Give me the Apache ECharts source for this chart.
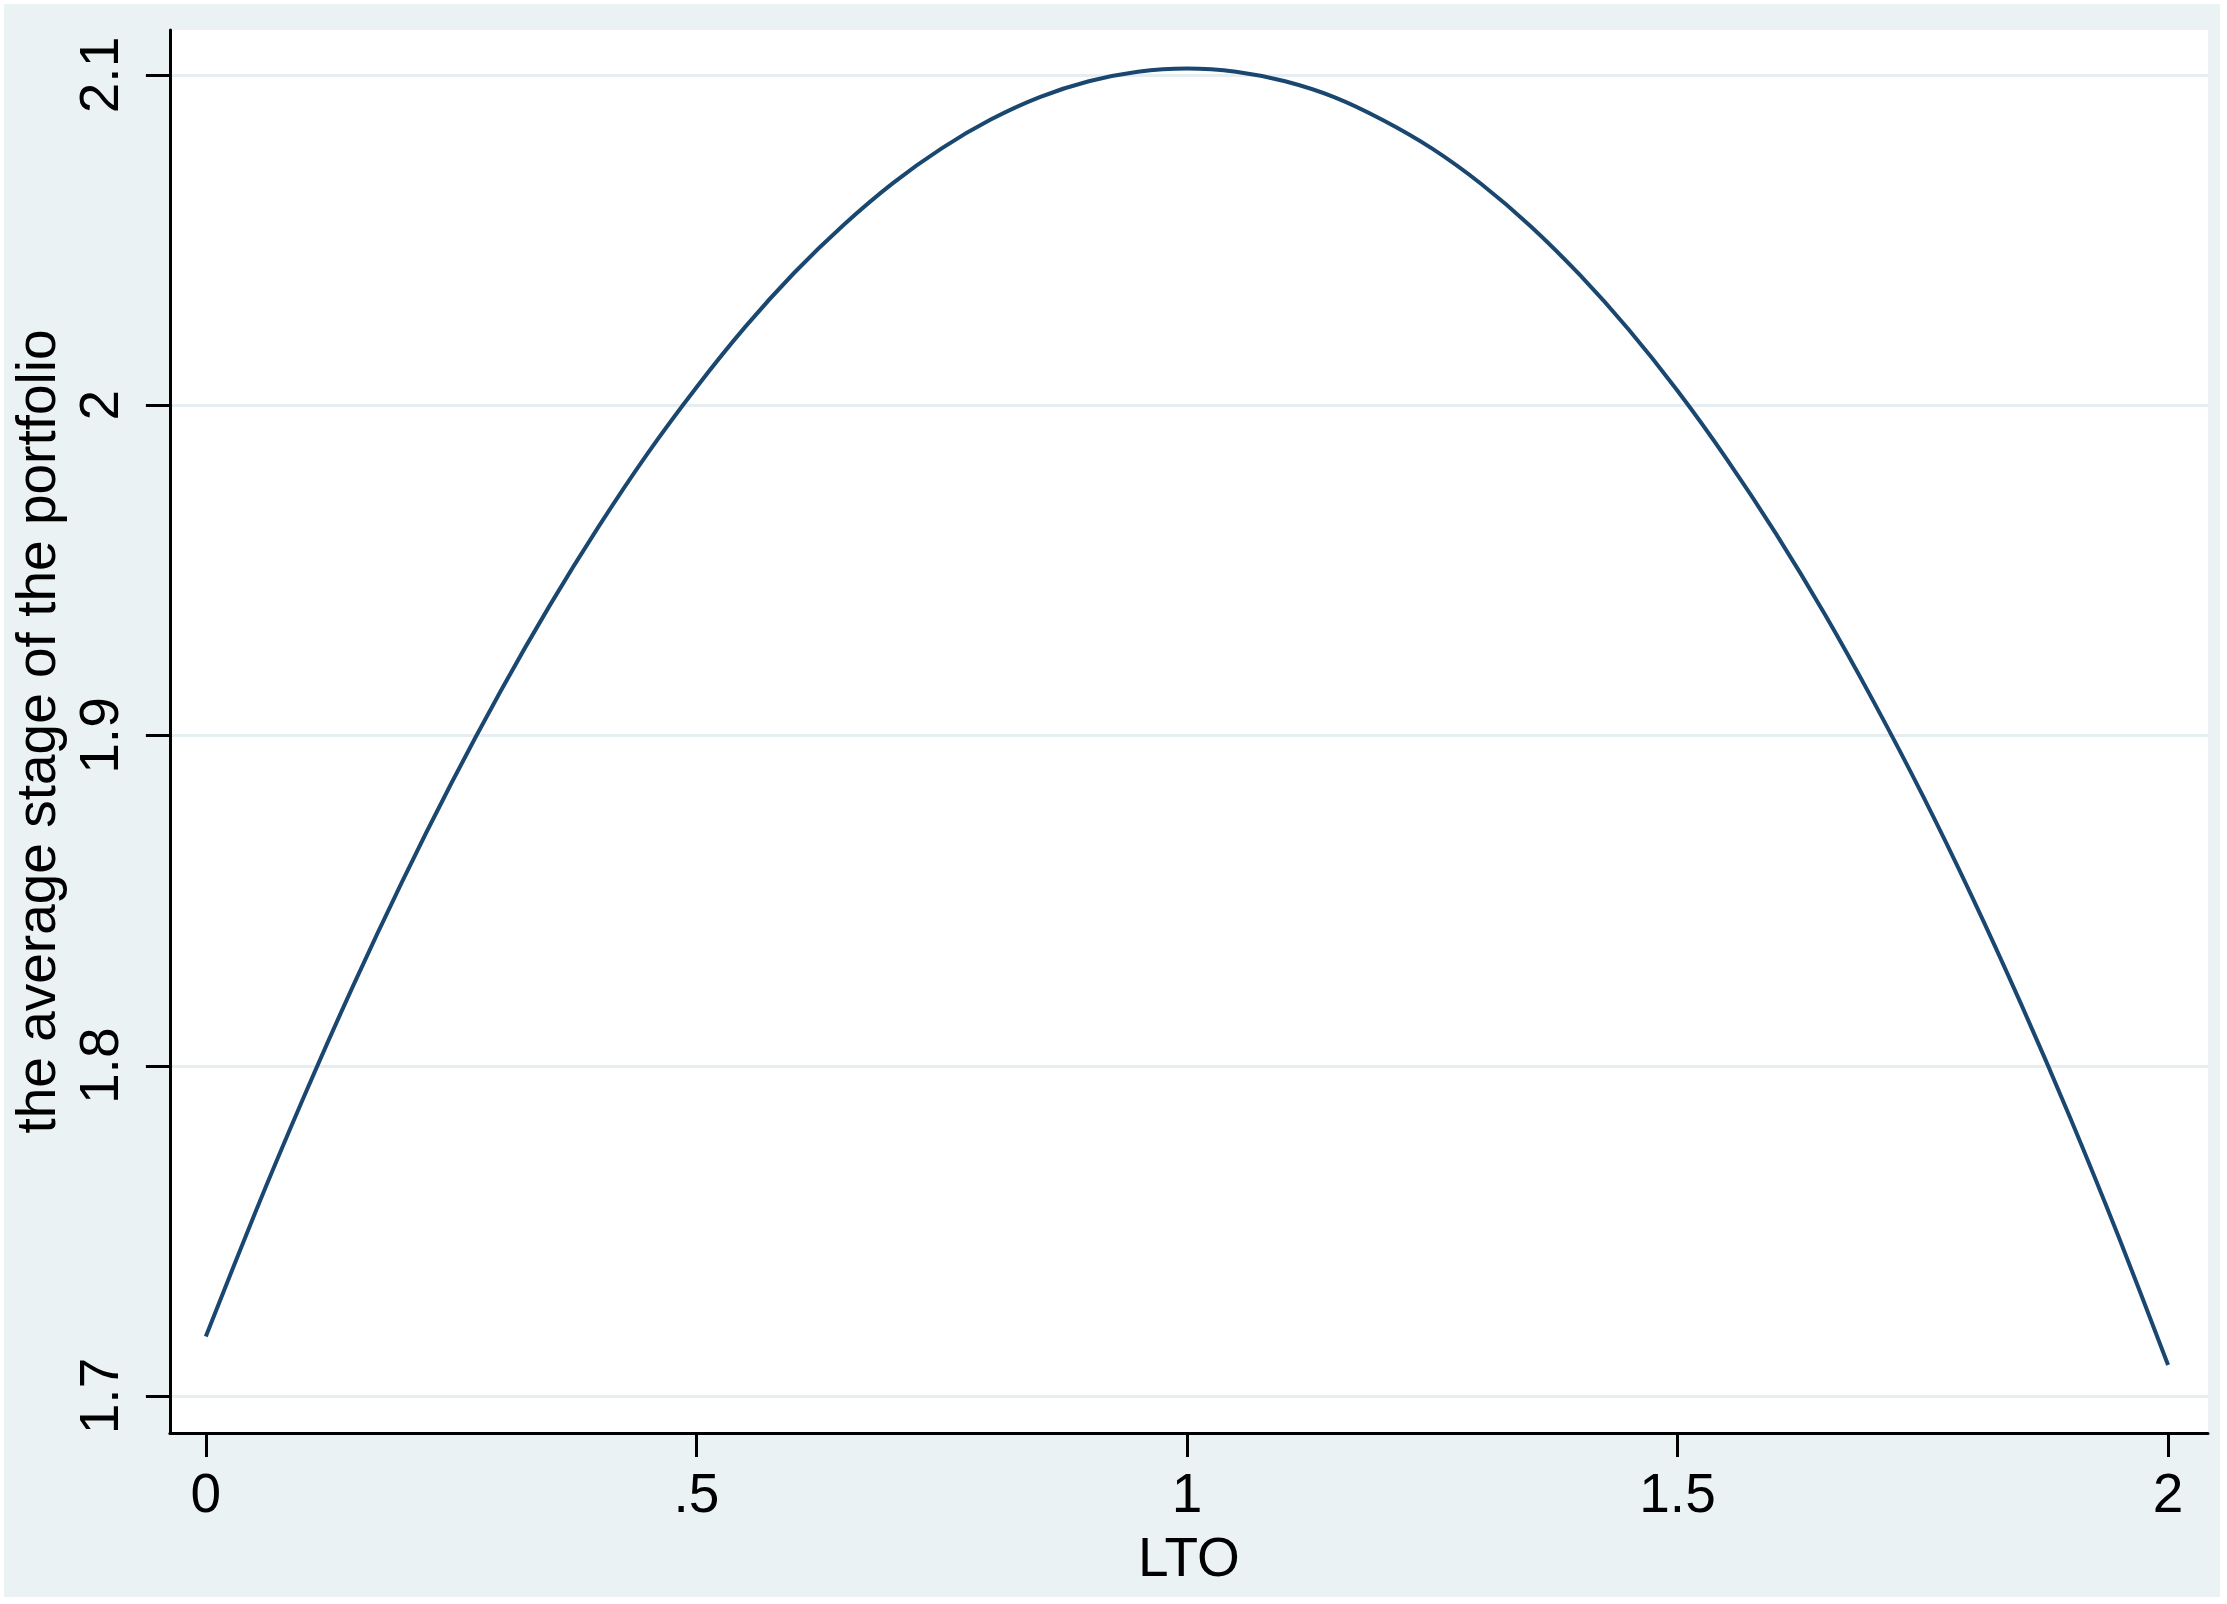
<!DOCTYPE html>
<html>
<head>
<meta charset="utf-8">
<script src="https://cdn.jsdelivr.net/npm/echarts@6/dist/echarts.min.js"></script>
<style>
  html, body { margin: 0; padding: 0; background: #ffffff; }
  #chart { position: absolute; left: 4px; top: 4px; width: 2216px; height: 1593px; }
</style>
</head>
<body>
<div id="chart"></div>
<script>
// Values
const ltoValues = [0, 0.05, 0.1, 0.15, 0.2, 0.25, 0.3, 0.35, 0.4, 0.45, 0.5, 0.55, 0.6, 0.65, 0.7, 0.75, 0.8, 0.85, 0.9, 0.95, 1.0,
                   1.05, 1.1, 1.15, 1.2, 1.25, 1.3, 1.35, 1.4, 1.45, 1.5, 1.55, 1.6, 1.65, 1.7, 1.75, 1.8, 1.85, 1.9, 1.95, 2.0];
const stageValues = [1.718, 1.7553, 1.7906, 1.8241, 1.8557, 1.8854, 1.9132, 1.9391, 1.9631, 1.9853, 2.0054,
                     2.0238, 2.0402, 2.0546, 2.0672, 2.0778, 2.0865, 2.0933, 2.0981, 2.1010, 2.102,
                     2.1010, 2.0981, 2.0933, 2.0863, 2.0777, 2.0670, 2.0543, 2.0396, 2.0230, 2.0044,
                     1.9838, 1.9613, 1.9368, 1.9102, 1.8818, 1.8513, 1.8188, 1.7844, 1.7479, 1.7094];
const xTicks = [0, 0.5, 1, 1.5, 2];
const xTickLabels = ['0', '.5', '1', '1.5', '2'];
const yTicks = [1.7, 1.8, 1.9, 2, 2.1];
const yTickLabels = ['1.7', '1.8', '1.9', '2', '2.1'];
const xTitle = 'LTO';
const yTitle = 'the average stage of the portfolio';

const seriesData = ltoValues.map((x, i) => [x, stageValues[i]]);

function labelFor(v, ticks, labels) {
  for (let i = 0; i < ticks.length; i++) {
    if (Math.abs(ticks[i] - v) < 1e-9) return labels[i];
  }
  return '';
}

const FONT = '"Liberation Sans", Arial, Helvetica, sans-serif';
const chart = echarts.init(document.getElementById('chart'), null, { renderer: 'canvas' });
chart.setOption({
  backgroundColor: '#EAF2F3',
  animation: false,
  grid: {
    show: true,
    left: 163, top: 26, right: 12, bottom: 164,
    backgroundColor: '#ffffff',
    borderWidth: 0
  },
  xAxis: {
    type: 'value',
    min: -0.0366, max: 2.0407,
    name: xTitle,
    nameLocation: 'middle',
    nameGap: 100,
    nameTextStyle: { color: '#000', fontSize: 55, fontFamily: FONT },
    axisLine: { show: true, onZero: false, lineStyle: { color: '#000', width: 3 } },
    axisTick: { show: true, length: 24, lineStyle: { color: '#000', width: 3 }, customValues: xTicks },
    axisLabel: {
      color: '#000', fontSize: 55, fontFamily: FONT, margin: 36,
      customValues: xTicks,
      formatter: v => labelFor(v, xTicks, xTickLabels)
    },
    splitLine: { show: false }
  },
  yAxis: {
    type: 'value',
    min: 1.6888, max: 2.11363,
    name: yTitle,
    nameLocation: 'middle',
    nameGap: 100,
    nameRotate: 90,
    nameTextStyle: { color: '#000', fontSize: 55, fontFamily: FONT },
    axisLine: { show: true, onZero: false, lineStyle: { color: '#000', width: 3 } },
    axisTick: { show: true, length: 24, lineStyle: { color: '#000', width: 3 }, customValues: yTicks },
    axisLabel: {
      color: '#000', fontSize: 55, fontFamily: FONT, margin: 40, rotate: 90,
      customValues: yTicks,
      formatter: v => labelFor(v, yTicks, yTickLabels)
    },
    splitLine: { show: true, lineStyle: { color: '#E6EEF1', width: 3 } }
  },
  series: [{
    type: 'line',
    data: seriesData,
    smooth: 0.3,
    showSymbol: false,
    lineStyle: { color: '#1A476F', width: 4 },
    z: 5
  }]
});
</script>
</body>
</html>
